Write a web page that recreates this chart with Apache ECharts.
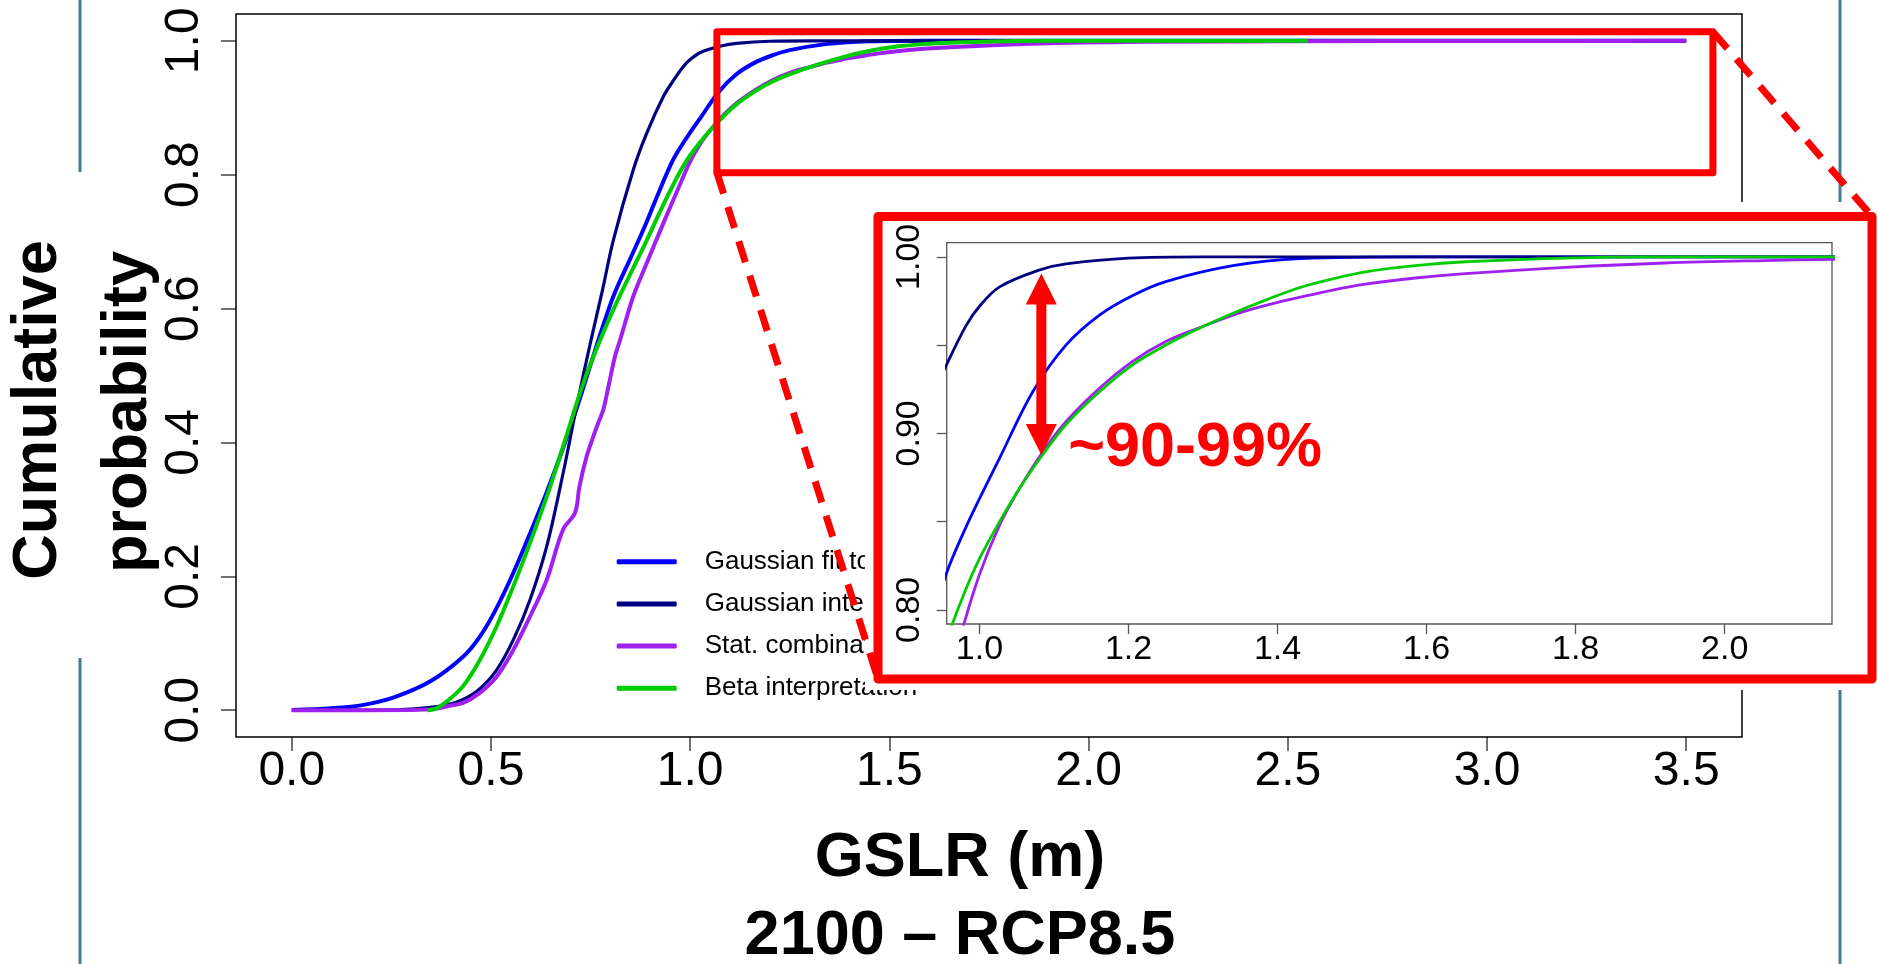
<!DOCTYPE html>
<html>
<head>
<meta charset="utf-8">
<script src="https://cdn.jsdelivr.net/npm/echarts@6/dist/echarts.min.js"></script>
<style>
html,body{margin:0;padding:0;background:#fff;}
#chart{width:1878px;height:964px;}
</style>
</head>
<body>
<div id="chart"></div>
<script>
// ---------------- data ----------------
const seriesNames = ['Gaussian fit to likely range', 'Gaussian interpretation', 'Stat. combination', 'Beta interpretation'];
const seriesColors = ['#0000FF', '#000080', '#A020F0', '#00CD00'];

const gaussianFit = [[0,0.0005],[0.1,0.003],[0.18,0.008],[0.26,0.02],[0.35,0.044],[0.43,0.08],[0.47,0.108],[0.51,0.148],[0.556,0.205],[0.6,0.267],[0.64,0.326],[0.68,0.39],[0.72,0.46],[0.76,0.535],[0.807,0.618],[0.85,0.675],[0.887,0.724],[0.92,0.772],[0.956,0.821],[0.982,0.847],[1.0,0.863],[1.027,0.886],[1.0715,0.9236],[1.116,0.95],[1.161,0.967],[1.205,0.978],[1.25,0.986],[1.34,0.995],[1.43,0.999],[1.6,1.0],[3.5,1.0]];

const gaussianInterp = [[0,0],[0.25,0.0003],[0.33,0.003],[0.39,0.008],[0.43,0.016],[0.47,0.031],[0.514,0.06],[0.556,0.105],[0.598,0.165],[0.64,0.245],[0.681,0.354],[0.715,0.454],[0.75,0.55],[0.78,0.628],[0.807,0.702],[0.857,0.807],[0.891,0.862],[0.933,0.917],[0.956,0.939],[0.982,0.961],[1.0,0.972],[1.027,0.983],[1.08,0.9925],[1.116,0.996],[1.2,0.9993],[1.3,1.0],[3.5,1.0]];

const statCombination = [[0,0],[0.3,0.0003],[0.36,0.002],[0.39,0.006],[0.43,0.011],[0.472,0.026],[0.514,0.05],[0.556,0.09],[0.598,0.14],[0.64,0.195],[0.681,0.27],[0.711,0.295],[0.722,0.334],[0.74,0.379],[0.757,0.409],[0.769,0.429],[0.782,0.449],[0.795,0.484],[0.811,0.528],[0.824,0.553],[0.857,0.618],[0.891,0.668],[0.933,0.728],[0.974,0.785],[1.0,0.82],[1.027,0.848],[1.054,0.869],[1.085,0.8896],[1.116,0.9066],[1.161,0.9255],[1.205,0.9406],[1.25,0.952],[1.295,0.9598],[1.34,0.967],[1.384,0.9725],[1.429,0.977],[1.474,0.9812],[1.518,0.9845],[1.585,0.988],[1.652,0.9905],[1.786,0.994],[1.92,0.9965],[2.054,0.9979],[2.142,0.9985],[2.5,0.9992],[3.0,0.9997],[3.5,1.0]];

const betaInterp = [[0.34,0],[0.36,0.002],[0.389,0.013],[0.43,0.036],[0.472,0.075],[0.514,0.125],[0.556,0.185],[0.598,0.25],[0.64,0.319],[0.681,0.394],[0.732,0.489],[0.774,0.553],[0.807,0.598],[0.85,0.652],[0.891,0.702],[0.93,0.752],[0.9635,0.792],[0.982,0.812],[1.0,0.829],[1.027,0.85],[1.054,0.869],[1.085,0.888],[1.116,0.905],[1.161,0.9236],[1.205,0.9387],[1.25,0.95],[1.295,0.9595],[1.34,0.968],[1.384,0.9755],[1.429,0.9825],[1.474,0.9875],[1.518,0.9915],[1.585,0.995],[1.652,0.9972],[1.786,0.9993],[1.9,1.0],[2.55,1.0]];

const curves = [gaussianFit, gaussianInterp, statCombination, betaInterp];

// tick values
const mainXTicks = [0, 0.5, 1.0, 1.5, 2.0, 2.5, 3.0, 3.5];
const mainYTicks = [0, 0.2, 0.4, 0.6, 0.8, 1.0];
const insetXTicks = [1.0, 1.2, 1.4, 1.6, 1.8, 2.0];
const insetYTicks = [0.80, 0.85, 0.90, 0.95, 1.00];
const insetYLabels = [0.80, 0.90, 1.00];

// annotation anchors (in data coordinates)
const zoomBox = [[1.067, 1.0136], [3.567, 0.803]];     // main plot: highlighted region
const arrowSpan = [1.083, 0.9906, 0.8878];             // inset: x, top tip, bottom tip
const annotationText = '~90-99%';
const annotationAt = [1.119, 0.8912];

// ---------------- chart ----------------
const FONT = "'Liberation Sans', Arial, Helvetica, sans-serif";
const chart = echarts.init(document.getElementById('chart'), null, {renderer: 'canvas'});

const series = [];
curves.forEach((d, i) => {
  series.push({
    name: seriesNames[i], type: 'line', xAxisIndex: 0, yAxisIndex: 0, data: d,
    symbol: 'none', showSymbol: false, smooth: 0.35,
    color: seriesColors[i], itemStyle: {color: seriesColors[i]},
    lineStyle: {color: seriesColors[i], width: i === 1 ? 3.2 : 4},
    silent: true, z: 2
  });
});
curves.forEach((d, i) => {
  series.push({
    name: seriesNames[i], type: 'line', xAxisIndex: 1, yAxisIndex: 1, data: d,
    symbol: 'none', showSymbol: false, smooth: 0.35, clip: true,
    color: seriesColors[i], itemStyle: {color: seriesColors[i]},
    lineStyle: {color: seriesColors[i], width: 2.8},
    silent: true, z: 31
  });
});

const fmt1 = v => Number(v).toFixed(1);
const fmt2 = v => Number(v).toFixed(2);

const option = {
  animation: false,
  backgroundColor: '#fff',
  grid: [
    {left: 236, top: 14, width: 1506, height: 723, show: true, borderColor: '#000', borderWidth: 1.5, backgroundColor: 'transparent', z: 1},
    {left: 946.7, top: 242.7, width: 885.3, height: 381.3, show: true, borderColor: '#555', borderWidth: 1.3, backgroundColor: 'transparent', z: 30}
  ],
  xAxis: [
    {type: 'value', gridIndex: 0, min: -0.14, max: 3.64,
     axisLine: {show: false, onZero: false}, splitLine: {show: false},
     axisTick: {show: true, length: 14, lineStyle: {color: '#444', width: 1.5}, customValues: mainXTicks},
     axisLabel: {customValues: mainXTicks, formatter: fmt1, fontSize: 48, color: '#000', margin: 11, fontFamily: FONT}},
    {type: 'value', gridIndex: 1, min: 0.956, max: 2.144, z: 31,
     axisLine: {show: false, onZero: false}, splitLine: {show: false},
     axisTick: {show: true, length: 10, lineStyle: {color: '#555', width: 1.3}, customValues: insetXTicks},
     axisLabel: {customValues: insetXTicks, formatter: fmt1, fontSize: 34, color: '#000', margin: 9, fontFamily: FONT}}
  ],
  yAxis: [
    {type: 'value', gridIndex: 0, min: -0.04, max: 1.04,
     axisLine: {show: false, onZero: false}, splitLine: {show: false},
     axisTick: {show: true, length: 15, lineStyle: {color: '#444', width: 1.5}, customValues: mainYTicks},
     axisLabel: {customValues: mainYTicks, formatter: fmt1, rotate: 90, fontSize: 48, color: '#000', margin: 27, fontFamily: FONT}},
    {type: 'value', gridIndex: 1, min: 0.792, max: 1.008, z: 31,
     axisLine: {show: false, onZero: false}, splitLine: {show: false},
     axisTick: {show: true, length: 10, lineStyle: {color: '#555', width: 1.3}, customValues: insetYTicks},
     axisLabel: {customValues: insetYLabels, formatter: fmt2, rotate: 90, fontSize: 34, color: '#000', margin: 20, fontFamily: FONT}}
  ],
  legend: {
    data: seriesNames, orient: 'vertical', left: 616.7, top: 548.7, padding: 0,
    itemWidth: 60, itemHeight: 5, itemGap: 16.2, icon: 'roundRect', selectedMode: false,
    textStyle: {fontSize: 26, lineHeight: 26, color: '#000', fontFamily: FONT, padding: [0, 0, 0, 23]},
    z: 4
  },
  series: series
};
chart.setOption(option);

// ---------------- annotations ----------------
const px0 = v => chart.convertToPixel({gridIndex: 0}, v);
const px1 = v => chart.convertToPixel({gridIndex: 1}, v);
const zTL = px0(zoomBox[0]);
const zBR = px0(zoomBox[1]);
const insetFrame = {x: 878, y: 216.5, w: 994, h: 462.5};
const at = px1([arrowSpan[0], arrowSpan[1]]);
const ab = px1([arrowSpan[0], arrowSpan[2]]);
const ax = at[0], yt = at[1], yb = ab[1];
const hl = 31, hw = 15.5, sw = 5;
const arrowPts = [[ax, yt], [ax + hw, yt + hl], [ax + sw, yt + hl], [ax + sw, yb - hl], [ax + hw, yb - hl], [ax, yb],
                  [ax - hw, yb - hl], [ax - sw, yb - hl], [ax - sw, yt + hl], [ax - hw, yt + hl]];
const txtPos = px1(annotationAt);
const TEAL = '#427C93';

chart.setOption({
  graphic: {elements: [
    {type: 'line', shape: {x1: 80, y1: 0, x2: 80, y2: 172}, style: {stroke: TEAL, lineWidth: 3}, z: 1},
    {type: 'line', shape: {x1: 80, y1: 658, x2: 80, y2: 964}, style: {stroke: TEAL, lineWidth: 3}, z: 1},
    {type: 'line', shape: {x1: 1840, y1: 0, x2: 1840, y2: 202}, style: {stroke: TEAL, lineWidth: 3}, z: 1},
    {type: 'line', shape: {x1: 1840, y1: 684, x2: 1840, y2: 964}, style: {stroke: TEAL, lineWidth: 3}, z: 1},
    // axis titles
    {type: 'text', x: 38.5, y: 410, rotation: Math.PI / 2, z: 5,
     style: {text: 'Cumulative', fontSize: 63, fontWeight: 'bold', fontFamily: FONT, fill: '#000', align: 'center', verticalAlign: 'middle'}},
    {type: 'text', x: 129, y: 412, rotation: Math.PI / 2, z: 5,
     style: {text: 'probability', fontSize: 63, fontWeight: 'bold', fontFamily: FONT, fill: '#000', align: 'center', verticalAlign: 'middle'}},
    {type: 'text', x: 960, y: 859, z: 5,
     style: {text: 'GSLR (m)', fontSize: 63, fontWeight: 'bold', fontFamily: FONT, fill: '#000', align: 'center', verticalAlign: 'middle'}},
    {type: 'text', x: 960, y: 937, z: 5,
     style: {text: '2100 \u2013 RCP8.5', fontSize: 63, fontWeight: 'bold', fontFamily: FONT, fill: '#000', align: 'center', verticalAlign: 'middle'}},
    // highlighted region in main plot
    {type: 'rect', shape: {x: zTL[0], y: zTL[1], width: zBR[0] - zTL[0], height: zBR[1] - zTL[1]},
     style: {fill: 'none', stroke: '#FF0000', lineWidth: 7, lineJoin: 'round'}, z: 21},
    // connector lines
    {type: 'line', shape: {x1: zTL[0], y1: zBR[1], x2: insetFrame.x, y2: insetFrame.y + insetFrame.h},
     style: {stroke: '#FF0000', lineWidth: 7, lineDash: [22, 14]}, z: 21},
    {type: 'line', shape: {x1: zBR[0], y1: zTL[1], x2: insetFrame.x + insetFrame.w, y2: insetFrame.y},
     style: {stroke: '#FF0000', lineWidth: 7, lineDash: [22, 14]}, z: 21},
    // inset background + frame
    {type: 'rect', shape: {x: 865, y: 202, width: 1013, height: 488}, style: {fill: '#FFFFFF'}, z: 20},
    {type: 'rect', shape: {x: insetFrame.x, y: insetFrame.y, width: insetFrame.w, height: insetFrame.h},
     style: {fill: 'none', stroke: '#FF0000', lineWidth: 9, lineJoin: 'round'}, z: 22},
    // inset annotation
    {type: 'polygon', shape: {points: arrowPts}, style: {fill: '#FF0000'}, z: 40},
    {type: 'text', x: txtPos[0], y: txtPos[1], z: 40,
     style: {text: annotationText, fontSize: 63, fontWeight: 'bold', fontFamily: FONT, fill: '#FF0000', align: 'left', verticalAlign: 'middle'}}
  ]}
});
</script>
</body>
</html>
